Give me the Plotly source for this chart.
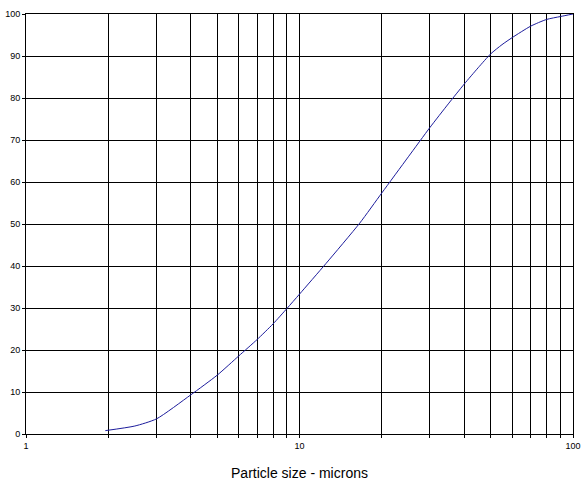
import plotly.graph_objects as go

particle_size = [1.95, 2.5, 3, 4, 5, 6, 7, 8, 9, 10, 12.5, 16.6, 20, 25, 30, 35, 40, 45, 50, 55, 60, 70, 80, 90, 100]
cumulative_pct = [0.8, 1.9, 3.6, 9.3, 14.0, 18.6, 22.5, 26.2, 29.9, 33.3, 40.6, 50.2, 57.4, 66.0, 73.0, 78.6, 83.3, 87.2, 90.5, 92.7, 94.4, 97.1, 98.7, 99.4, 100]

x_tick_vals = [1, 2, 3, 4, 5, 6, 7, 8, 9, 10, 20, 30, 40, 50, 60, 70, 80, 90, 100]
x_tick_text = ["1", "", "", "", "", "", "", "", "", "10", "", "", "", "", "", "", "", "", "100"]
y_tick_vals = [0, 10, 20, 30, 40, 50, 60, 70, 80, 90, 100]

fig = go.Figure()
fig.add_trace(go.Scatter(
    x=particle_size, y=cumulative_pct, mode="lines",
    line=dict(color="#1c1c9c", width=1, shape="spline", smoothing=0.6),
    showlegend=False, hoverinfo="skip"))

font_family = "Liberation Sans, Arial, sans-serif"
fig.update_layout(
    width=581, height=485,
    margin=dict(l=26, r=8, t=14, b=51, autoexpand=False),
    paper_bgcolor="white", plot_bgcolor="white",
    font=dict(family=font_family, color="black"),
    xaxis=dict(
        type="log", range=[0, 2], automargin=False,
        tickmode="array", tickvals=x_tick_vals, ticktext=x_tick_text,
        showgrid=True, gridcolor="black", gridwidth=1,
        showline=True, linecolor="black", linewidth=1, mirror=True,
        ticks="outside", ticklen=3, tickcolor="black",
        tickfont=dict(size=9, family=font_family),
        title=dict(text="Particle size - microns", font=dict(size=14, family=font_family), standoff=18),
        zeroline=False,
    ),
    yaxis=dict(
        range=[0, 100], tickmode="array", tickvals=y_tick_vals, automargin=False,
        showgrid=True, gridcolor="black", gridwidth=1,
        showline=True, linecolor="black", linewidth=1, mirror=True,
        ticks="outside", ticklen=3, tickcolor="black",
        tickfont=dict(size=9, family=font_family),
        zeroline=False,
    ),
)

fig.write_html("out.html", config={"displayModeBar": False},
               post_script="document.body.style.margin='0';")
